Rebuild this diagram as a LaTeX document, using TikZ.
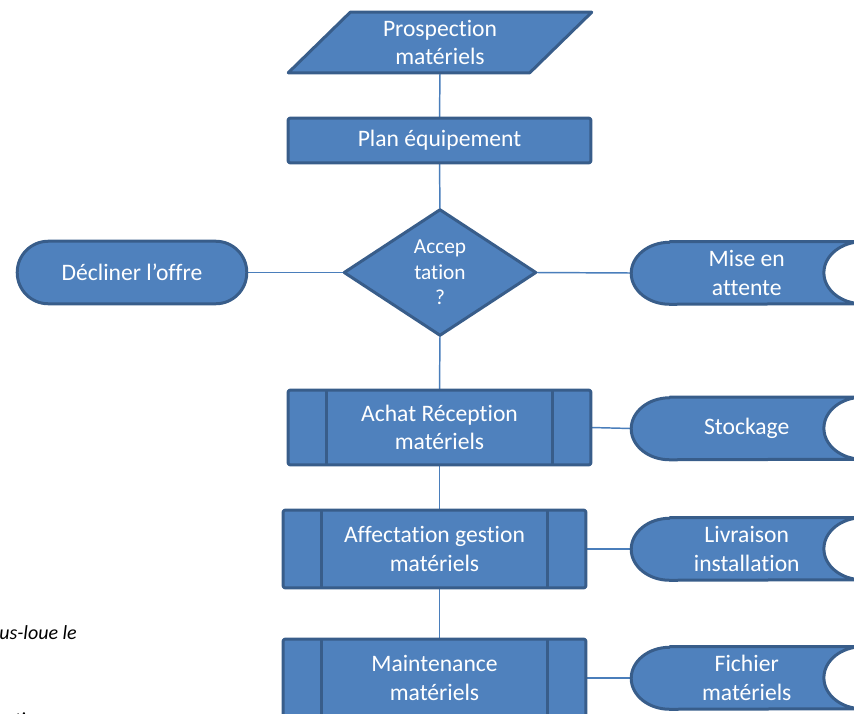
\documentclass[tikz,border=0pt]{standalone}
\usepackage{fontspec}
\setmainfont{Carlito}[Ligatures={TeX,NoCommon}]
\usetikzlibrary{calc,backgrounds}
\definecolor{fillblue}{HTML}{4F81BD}
\definecolor{edgeblue}{HTML}{385D8A}
\definecolor{linkblue}{HTML}{4A7EBB}
\begin{document}
\begin{tikzpicture}[x=0.75pt,y=-0.75pt,
  lbl/.style={text=white,align=center,inner sep=0pt,font=\fontsize{17.7}{21.4}\selectfont},
  smalllbl/.style={text=white,align=center,inner sep=0pt,font=\fontsize{16}{19}\selectfont},
  shp/.style={fill=fillblue,draw=edgeblue,line width=2.25pt,line join=round},
  bar/.style={draw=edgeblue,line width=2.25pt},
  link/.style={draw=linkblue,line width=1.1pt},
  note/.style={font=\fontsize{15}{18}\selectfont\itshape,text=black,inner sep=0pt},
  procbox/.style={lbl,minimum width=226.5pt,minimum height=57.75pt},
  storebox/.style={lbl,minimum width=172.9pt,minimum height=46.5pt}]
\useasboundingbox (0,0) rectangle (854,714);

% text holders (shapes are drawn on the background layer)
\node[lbl,minimum width=180.75pt,minimum height=45pt] (pros) at (440,42.5) {Prospection\\matériels};
\node[lbl,minimum width=226.5pt,minimum height=33pt] (plan) at (439.5,140.5) {Plan équipement};
\node[smalllbl,minimum width=143.25pt,minimum height=93.75pt] (acc) at (440,272.5) {Accep\\tation\\?};
\node[lbl,minimum width=171.75pt,minimum height=46.5pt] (decl) at (132,272.5) {Décliner l’offre};
\node[storebox] (mise) at (746.75,273) {Mise en\\attente};
\node[procbox,minimum height=55.5pt] (ach) at (439.5,427.5) {Achat Réception\\matériels};
\node[storebox] (stock) at (746.75,428.5) {Stockage};
\node[procbox] (aff) at (434.5,549) {Affectation gestion\\matériels};
\node[storebox] (livr) at (746.75,549) {Livraison\\installation};
\node[procbox] (mai) at (434.5,678) {Maintenance\\matériels};
\node[storebox] (fich) at (746.75,678) {Fichier\\matériels};

\node[note,anchor=west] (n1) at (-1,633) {us-loue le};
\node[note,anchor=base west] (n2) at (14,726) {tion};

\begin{pgfonlayer}{background}
\begin{scope}
\clip (0,0) rectangle (854,714);
% connectors
\draw[link] (pros.south) -- (plan.north);
\draw[link] (plan.south) -- (acc.north);
\draw[link] (acc.south) -- (ach.north);
\draw[link] (acc.west) -- (decl.east);
\draw[link] (acc.east) -- (mise.west);
\draw[link] (ach.east) -- (stock.west);
\draw[link] (ach.south) -- (ach.south |- aff.north);
\draw[link] (ach.south |- aff.south) -- (ach.south |- mai.north);
\draw[link] (aff.east) -- (livr.west);
\draw[link] (mai.east) -- (fich.west);
% parallelogram
\draw[shp] ($(pros.north west)+(31,0)$) -- ($(pros.north east)+(31,0)$) -- ($(pros.south east)+(-31,0)$) -- ($(pros.south west)+(-31,0)$) -- cycle;
% process
\draw[shp,rounded corners=1pt] (plan.north west) rectangle (plan.south east);
% decision
\draw[shp] (acc.north) -- (acc.east) -- (acc.south) -- (acc.west) -- cycle;
% terminator
\draw[shp,rounded corners=23.25pt] (decl.north west) rectangle (decl.south east);
% predefined processes
\foreach \b in {ach,aff,mai}{
  \draw[shp,rounded corners=1pt] (\b.north west) rectangle (\b.south east);
  \draw[bar] ($(\b.north west)+(38,0)$) -- ($(\b.south west)+(38,0)$);
  \draw[bar] ($(\b.north east)+(-38,0)$) -- ($(\b.south east)+(-38,0)$);
}
% stored data
\foreach \s in {mise,stock,livr,fich}{
  \draw[shp] ($(\s.north west)+(38.4,0)$) -- (\s.north east)
    arc[start angle=90,end angle=270,x radius=28.8pt,y radius=23.25pt]
    -- ($(\s.south west)+(38.4,0)$)
    arc[start angle=270,end angle=90,x radius=28.8pt,y radius=23.25pt] -- cycle;
}
\end{scope}
\end{pgfonlayer}
\end{tikzpicture}
\end{document}
